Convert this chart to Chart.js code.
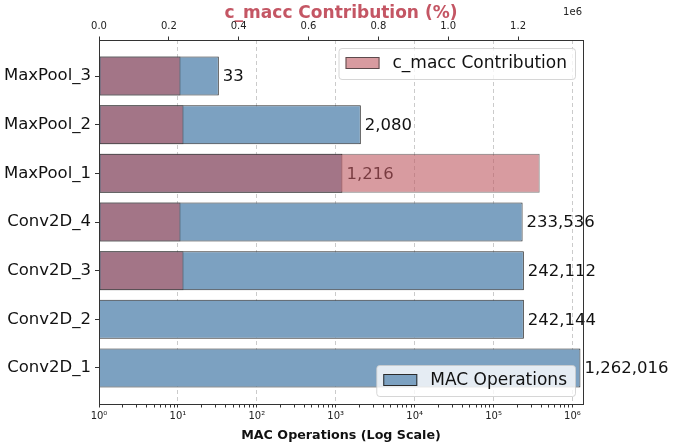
<!DOCTYPE html>
<html>
<head>
<meta charset="utf-8">
<script src="https://cdn.jsdelivr.net/npm/chart.js@4.4.0/dist/chart.umd.min.js"></script>
<style>
  html, body { margin: 0; padding: 0; background: #fff; }
</style>
</head>
<body>
<canvas id="grafic" width="675" height="446"></canvas>
<script>
// Dades (de dalt a baix)
const layers = ['MaxPool_3', 'MaxPool_2', 'MaxPool_1', 'Conv2D_4', 'Conv2D_3', 'Conv2D_2', 'Conv2D_1'];
const macOps = [33, 2080, 1216, 233536, 242112, 242144, 1262016];
const maccContribution = [233536, 242112, 1262016, 233536, 242144, 2080, 33];

// Eixos
const logDecades = [1, 10, 100, 1000, 10000, 100000, 1000000];
const topTicks = [0, 200000, 400000, 600000, 800000, 1000000, 1200000];
const logMax = 1360000;
const topMax = 1386000;

const blau = 'rgb(124, 161, 193)';
const rosa = 'rgba(190, 88, 97, 0.6)';
const vora = '#2b2b2b';
const font = '"DejaVu Sans", sans-serif';

const sup = { '0': '⁰', '1': '¹', '2': '²', '3': '³', '4': '⁴', '5': '⁵', '6': '⁶' };

function isDecade(v) {
  const l = Math.log10(v);
  return Math.abs(l - Math.round(l)) < 1e-9;
}

// Plugin per etiquetes, llegendes i marc
const extres = {
  id: 'extres',
  afterDatasetDraw(chart, args) {
    if (args.index !== 1) return;
    const ctx = chart.ctx;
    const meta = chart.getDatasetMeta(1);
    ctx.save();
    ctx.font = '16.5px ' + font;
    ctx.fillStyle = '#111';
    ctx.textAlign = 'left';
    ctx.textBaseline = 'middle';
    meta.data.forEach((bar, i) => {
      ctx.fillText(macOps[i].toLocaleString('en-US'), bar.x + 4, bar.y + 1);
    });
    ctx.restore();
  },
  afterDatasetsDraw(chart) {
    const ctx = chart.ctx;
    const area = chart.chartArea;
    function llegenda(text, color, border, top, bottom) {
      ctx.save();
      ctx.font = '17px ' + font;
      const w = 7 + 34 + 13 + ctx.measureText(text).width + 8;
      const h = 31;
      const x = area.right - 8 - w;
      const y = top !== null ? area.top + top : area.bottom - bottom - h;
      ctx.fillStyle = 'rgba(255,255,255,0.8)';
      ctx.strokeStyle = 'rgba(204,204,204,0.8)';
      ctx.lineWidth = 1;
      ctx.beginPath();
      ctx.roundRect(x + 0.5, y + 0.5, w, h, 3);
      ctx.fill();
      ctx.stroke();
      ctx.fillStyle = color;
      ctx.fillRect(x + 7, y + 9, 34, 12);
      ctx.strokeStyle = border;
      ctx.strokeRect(x + 7.5, y + 9.5, 33, 11);
      ctx.fillStyle = '#111';
      ctx.textBaseline = 'middle';
      ctx.fillText(text, x + 54, y + 16);
      ctx.restore();
    }
    llegenda('c_macc Contribution', rosa, 'rgba(40,40,40,0.7)', 8, null);
    llegenda('MAC Operations', blau, vora, null, 8);
  },
  afterDraw(chart) {
    const ctx = chart.ctx;
    const a = chart.chartArea;
    ctx.save();
    ctx.strokeStyle = '#333';
    ctx.lineWidth = 1;
    ctx.strokeRect(Math.round(a.left) + 0.5, Math.round(a.top) + 0.5,
      Math.round(a.right - a.left), Math.round(a.bottom - a.top));
    ctx.font = '10px ' + font;
    ctx.fillStyle = '#222';
    ctx.textAlign = 'right';
    ctx.textBaseline = 'middle';
    ctx.fillText('1e6', a.right - 1, 12);
    ctx.restore();
  }
};

const ctx = document.getElementById('grafic');
new Chart(ctx, {
  type: 'bar',
  data: {
    datasets: [
      {
        label: 'c_macc Contribution',
        data: maccContribution.map((v, i) => ({ x: v, y: i })),
        xAxisID: 'x2',
        backgroundColor: rosa,
        borderColor: 'rgba(40,40,40,0.6)',
        borderWidth: 1,
        borderSkipped: false,
        grouped: false,
        barPercentage: 0.8,
        categoryPercentage: 1,
        order: 0
      },
      {
        label: 'MAC Operations',
        data: macOps.map((v, i) => ({ x: v, y: i })),
        xAxisID: 'x',
        backgroundColor: blau,
        borderColor: vora,
        borderWidth: 1,
        borderSkipped: false,
        grouped: false,
        barPercentage: 0.8,
        categoryPercentage: 1,
        order: 1
      }
    ]
  },
  options: {
    indexAxis: 'y',
    responsive: false,
    devicePixelRatio: 1,
    animation: false,
    layout: { padding: { left: 0, right: 92, top: 0, bottom: 0 } },
    plugins: {
      legend: { display: false },
      tooltip: { enabled: false }
    },
    scales: {
      y: {
        type: 'linear',
        reverse: true,
        offset: false,
        min: -0.74,
        max: 6.74,
        afterBuildTicks: (s) => { s.ticks = layers.map((_, i) => ({ value: i })); },
        afterFit: (s) => { s.width = 99; },
        ticks: {
          callback: (v) => layers[v],
          font: { family: font, size: 16.5 },
          color: '#111',
          padding: 4,
          autoSkip: false
        },
        grid: { offset: false, drawOnChartArea: false, tickLength: 4, color: '#333' },
        border: { display: false }
      },
      x: {
        type: 'logarithmic',
        position: 'bottom',
        min: 1,
        max: logMax,
        afterBuildTicks: (s) => {
          const t = [];
          logDecades.forEach(d => {
            for (let k = 1; k <= 9; k++) {
              if (d * k <= logMax) t.push({ value: d * k });
            }
          });
          s.ticks = t;
        },
        afterFit: (s) => { s.height = 42; },
        ticks: {
          autoSkip: false,
          maxRotation: 0,
          padding: 3,
          font: { family: font, size: 10 },
          color: '#222',
          callback: (v) => {
            if (!isDecade(v)) return '';
            const e = String(Math.round(Math.log10(v)));
            return '10' + e.split('').map(c => sup[c]).join('');
          }
        },
        grid: {
          tickLength: 3.5,
          color: (c) => (c.tick && isDecade(c.tick.value) ? 'rgba(190,190,190,0.8)' : 'rgba(0,0,0,0)'),
          tickColor: '#333'
        },
        border: { display: false, dash: [4, 3] },
        title: {
          display: true,
          text: 'MAC Operations (Log Scale)',
          font: { family: font, size: 12.7, weight: 'bold' },
          color: '#111',
          padding: { top: 0, bottom: 3 }
        }
      },
      x2: {
        type: 'linear',
        position: 'top',
        min: 0,
        max: topMax,
        afterBuildTicks: (s) => { s.ticks = topTicks.map(v => ({ value: v })); },
        afterFit: (s) => { s.height = 40; },
        ticks: {
          autoSkip: false,
          maxRotation: 0,
          padding: 4,
          font: { family: font, size: 10 },
          color: '#222',
          callback: (v) => (v / 1e6).toFixed(1)
        },
        grid: { drawOnChartArea: false, tickLength: 3.5, color: '#333' },
        border: { display: false },
        title: {
          display: true,
          text: 'c_macc Contribution (%)',
          font: { family: font, size: 17, weight: 'bold' },
          color: 'rgb(196, 86, 100)',
          padding: { top: 3.5, bottom: 0 }
        }
      }
    }
  },
  plugins: [extres]
});
</script>
</body>
</html>
